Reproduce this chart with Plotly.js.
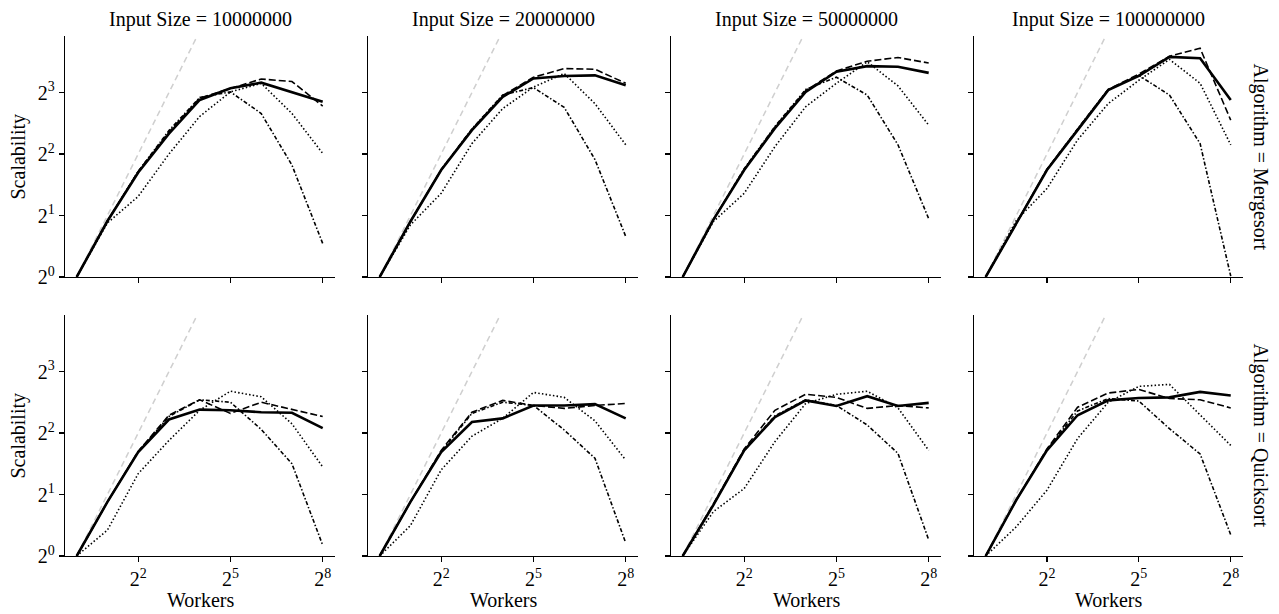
<!DOCTYPE html>
<html>
<head>
<meta charset="utf-8">
<script src="https://cdn.plot.ly/plotly-3.0.1.min.js"></script>
<style>
html,body{margin:0;padding:0;background:#fff;}
#chart{width:1279px;height:614px;}
</style>
</head>
<body>
<div id="chart"></div>
<script>
// ---------- data ----------
const workers = [1, 2, 4, 8, 16, 32, 64, 128, 256];
const inputSizes = ["10000000", "20000000", "50000000", "100000000"];
const algorithms = ["Mergesort", "Quicksort"];
const seriesNames = ["Variant 1", "Variant 2", "Variant 3", "Variant 4"];
const xTickVals = [4, 32, 256];
const xTickText = ["2<sup>2</sup>", "2<sup>5</sup>", "2<sup>8</sup>"];
const yTickVals = [1, 2, 4, 8];
const yTickText = ["2<sup>0</sup>", "2<sup>1</sup>", "2<sup>2</sup>", "2<sup>3</sup>"];

// Mergesort, scalability per input size (solid, dashed, dotted, dash-dot)
const merge10M_s1 = [1, 1.88, 3.25, 5.03, 7.36, 8.40, 8.94, 8.06, 7.21];
const merge10M_s2 = [1, 1.88, 3.29, 5.13, 7.52, 8.34, 9.32, 9.06, 6.87];
const merge10M_s3 = [1, 1.84, 2.48, 4.00, 6.11, 8.06, 8.88, 6.32, 4.03];
const merge10M_s4 = [1, 1.88, 3.29, 5.21, 7.57, 8.06, 6.32, 3.53, 1.46];

const merge20M_s1 = [1, 1.87, 3.34, 5.24, 7.62, 9.38, 9.65, 9.71, 8.69];
const merge20M_s2 = [1, 1.87, 3.34, 5.28, 7.73, 9.51, 10.48, 10.41, 8.88];
const merge20M_s3 = [1, 1.80, 2.57, 4.50, 6.68, 8.51, 9.92, 7.06, 4.44];
const merge20M_s4 = [1, 1.87, 3.36, 5.31, 7.78, 8.46, 6.77, 3.76, 1.58];

const merge50M_s1 = [1, 1.91, 3.34, 5.35, 8.06, 10.13, 10.78, 10.70, 9.99];
const merge50M_s2 = [1, 1.91, 3.36, 5.43, 8.17, 10.20, 11.39, 11.88, 11.16];
const merge50M_s3 = [1, 1.87, 2.57, 4.35, 6.82, 8.88, 11.31, 8.63, 5.54];
const merge50M_s4 = [1, 1.91, 3.39, 5.46, 8.28, 9.51, 7.78, 4.44, 1.93];

const merge100M_s1 = [1, 1.84, 3.34, 5.24, 8.22, 9.65, 11.96, 11.79, 7.36];
const merge100M_s2 = [1, 1.84, 3.36, 5.28, 8.28, 9.85, 12.04, 13.18, 5.86];
const merge100M_s3 = [1, 1.89, 2.71, 4.69, 7.06, 9.19, 11.63, 8.88, 4.44];
const merge100M_s4 = [1, 1.84, 3.36, 5.31, 8.28, 9.71, 7.78, 4.50, 1.01];

// Quicksort
const quick10M_s1 = [1, 1.84, 3.23, 4.66, 5.21, 5.17, 5.06, 5.03, 4.23];
const quick10M_s2 = [1, 1.84, 3.25, 4.89, 5.82, 4.99, 5.66, 5.21, 4.82];
const quick10M_s3 = [1, 1.34, 2.53, 3.68, 5.17, 6.41, 6.02, 4.44, 2.73];
const quick10M_s4 = [1, 1.84, 3.25, 4.82, 5.82, 5.66, 4.17, 2.83, 1.13];

const quick20M_s1 = [1, 1.84, 3.23, 4.53, 4.72, 5.46, 5.46, 5.54, 4.72];
const quick20M_s2 = [1, 1.84, 3.29, 5.06, 5.78, 5.46, 5.28, 5.46, 5.58];
const quick20M_s3 = [1, 1.41, 2.64, 3.86, 4.72, 6.32, 5.98, 4.59, 2.95];
const quick20M_s4 = [1, 1.84, 3.25, 4.99, 5.66, 5.46, 4.14, 3.01, 1.16];

const quick50M_s1 = [1, 1.78, 3.29, 4.79, 5.78, 5.43, 6.06, 5.43, 5.62];
const quick50M_s2 = [1, 1.80, 3.34, 5.17, 6.19, 5.98, 5.28, 5.46, 5.31];
const quick50M_s3 = [1, 1.65, 2.14, 3.63, 5.58, 6.19, 6.41, 5.31, 3.29];
const quick50M_s4 = [1, 1.78, 3.29, 4.86, 5.82, 5.46, 4.38, 3.18, 1.20];

const quick100M_s1 = [1, 1.88, 3.29, 4.89, 5.78, 5.94, 5.98, 6.36, 6.11];
const quick100M_s2 = [1, 1.88, 3.34, 5.35, 6.28, 6.54, 5.90, 5.82, 5.31];
const quick100M_s3 = [1, 1.39, 2.10, 3.76, 5.66, 6.77, 6.92, 4.89, 3.48];
const quick100M_s4 = [1, 1.88, 3.31, 5.13, 5.90, 5.74, 4.20, 3.16, 1.27];

// ideal linear scalability reference
const idealScalability = [1, 2, 4, 8, 16, 32, 64, 128, 256];

const panels = [
  [[merge10M_s1, merge10M_s2, merge10M_s3, merge10M_s4],
   [merge20M_s1, merge20M_s2, merge20M_s3, merge20M_s4],
   [merge50M_s1, merge50M_s2, merge50M_s3, merge50M_s4],
   [merge100M_s1, merge100M_s2, merge100M_s3, merge100M_s4]],
  [[quick10M_s1, quick10M_s2, quick10M_s3, quick10M_s4],
   [quick20M_s1, quick20M_s2, quick20M_s3, quick20M_s4],
   [quick50M_s1, quick50M_s2, quick50M_s3, quick50M_s4],
   [quick100M_s1, quick100M_s2, quick100M_s3, quick100M_s4]]
];

// ---------- layout ----------
const W = 1279, H = 614;
const colPx = [[65, 335], [368, 638], [671, 941], [974, 1243]];
const rowPx = [[36, 277], [315, 556]];
const FONT = "Liberation Serif, Times New Roman, serif";
const TITLE_SIZE = 20;

const styles = [
  {width: 2.6, dash: "solid"},
  {width: 1.6, dash: "7px,3px"},
  {width: 1.6, dash: "1.5px,2.2px"},
  {width: 1.6, dash: "4px,2px,1.5px,2px"}
];

const traces = [];
const layout = {
  width: W, height: H,
  margin: {l: 0, r: 0, t: 0, b: 0},
  paper_bgcolor: "#fff", plot_bgcolor: "#fff",
  showlegend: false,
  font: {family: FONT, size: 19, color: "#000"},
  annotations: []
};

const xr = [-0.38 * Math.LOG10E * Math.LN2, 8.4 * Math.LOG10E * Math.LN2];
const yr = [0, 3.92 * Math.LOG10E * Math.LN2];

for (let r = 0; r < 2; r++) {
  for (let c = 0; c < 4; c++) {
    const idx = r * 4 + c + 1;
    const xa = "x" + (idx === 1 ? "" : idx);
    const ya = "y" + (idx === 1 ? "" : idx);
    traces.push({
      x: workers, y: idealScalability, xaxis: xa, yaxis: ya,
      mode: "lines", name: "Ideal", hoverinfo: "skip",
      line: {color: "#cfcfcf", width: 1.5, dash: "6px,4px"}
    });
    panels[r][c].forEach((vals, s) => {
      traces.push({
        x: workers, y: vals, xaxis: xa, yaxis: ya,
        mode: "lines", name: seriesNames[s],
        line: {color: "#000", width: styles[s].width, dash: styles[s].dash}
      });
    });
    const common = {
      showgrid: false, zeroline: false, showline: true,
      linecolor: "#000", linewidth: 1.3,
      ticks: "outside", ticklen: 5, tickwidth: 1.3, tickcolor: "#000",
      type: "log", fixedrange: true,
      tickfont: {family: FONT, size: 20, color: "#000"}
    };
    layout["xaxis" + (idx === 1 ? "" : idx)] = Object.assign({}, common, {
      domain: [colPx[c][0] / W, colPx[c][1] / W],
      anchor: ya, range: xr,
      tickvals: xTickVals, ticktext: xTickText,
      showticklabels: r === 1
    });
    layout["yaxis" + (idx === 1 ? "" : idx)] = Object.assign({}, common, {
      domain: [1 - rowPx[r][1] / H, 1 - rowPx[r][0] / H],
      anchor: xa, range: yr,
      tickvals: yTickVals, ticktext: yTickText,
      showticklabels: c === 0
    });
  }
}

// column titles
inputSizes.forEach((s, c) => {
  layout.annotations.push({
    xref: "paper", yref: "paper",
    x: (colPx[c][0] + colPx[c][1]) / 2 / W, y: 1 - 19 / H,
    xanchor: "center", yanchor: "middle", showarrow: false,
    text: "Input Size = " + s, font: {family: FONT, size: TITLE_SIZE, color: "#000"}
  });
  layout.annotations.push({
    xref: "paper", yref: "paper",
    x: (colPx[c][0] + colPx[c][1]) / 2 / W, y: 1 - 600 / H,
    xanchor: "center", yanchor: "middle", showarrow: false,
    text: "Workers", font: {family: FONT, size: TITLE_SIZE, color: "#000"}
  });
});
// row titles
algorithms.forEach((a, r) => {
  const cy = 1 - (rowPx[r][0] + rowPx[r][1]) / 2 / H;
  layout.annotations.push({
    xref: "paper", yref: "paper", x: 1260 / W, y: cy,
    xanchor: "center", yanchor: "middle", showarrow: false, textangle: 90,
    text: "Algorithm = " + a, font: {family: FONT, size: TITLE_SIZE, color: "#000"}
  });
  layout.annotations.push({
    xref: "paper", yref: "paper", x: 18 / W, y: cy,
    xanchor: "center", yanchor: "middle", showarrow: false, textangle: -90,
    text: "Scalability", font: {family: FONT, size: TITLE_SIZE, color: "#000"}
  });
});

Plotly.newPlot("chart", traces, layout, {displayModeBar: false, staticPlot: true});
</script>
</body>
</html>
